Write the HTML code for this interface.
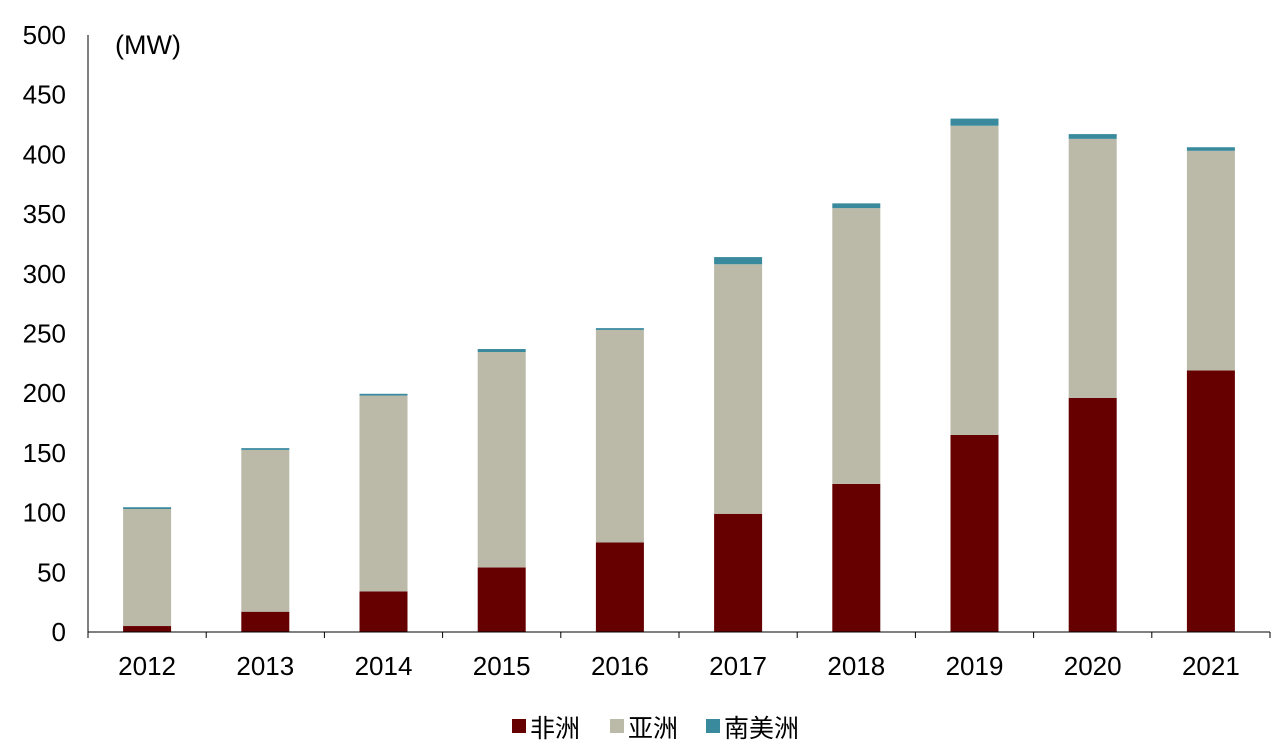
<!DOCTYPE html>
<html><head><meta charset="utf-8"><style>
body{margin:0;background:#fff;}
svg text{font-family:"Liberation Sans","Noto Sans CJK SC",sans-serif;fill:#000;}
</style></head><body>
<svg width="1288" height="746" id="c"></svg>
<script>
const categories=["2012","2013","2014","2015","2016","2017","2018","2019","2020","2021"];
const africa=[5,17,34,54,75,99,124,165,196,219];
const asia=[98,135.5,164,180.5,178,209,231,259,217,184];
const southAmerica=[1.5,1.5,1.5,2.5,1.5,6,4,6,4,3];
const yTicks=[0,50,100,150,200,250,300,350,400,450,500];
const NS="http://www.w3.org/2000/svg";
const svg=document.getElementById('c');
const x0=88,x1=1270,y0=632,yTop=35,ymax=500;
const y=v=>y0-(v/ymax)*(y0-yTop);
const bw=(x1-x0)/categories.length;
const xc=i=>x0+bw*(i+0.5);
function mk(t,a){const e=document.createElementNS(NS,t);for(const k in a)e.setAttribute(k,a[k]);svg.appendChild(e);return e;}
const colors=["#660000","#BBB9A8","#3A8A9E"];
const names=["africa","asia","south-america"];
const series=[africa,asia,southAmerica];
categories.forEach((c,i)=>{
  let base=0;
  series.forEach((s,k)=>{
    const r=mk('rect',{x:xc(i)-24,y:y(base+s[i]),width:48,height:y(base)-y(base+s[i]),fill:colors[k]});
    
    
    base+=s[i];
  });
  const t=mk('text',{x:xc(i),y:675,'font-size':26,'text-anchor':'middle'});
  t.textContent=c;
  
  
});
yTicks.forEach(v=>{
  const t=mk('text',{x:66,y:y(v)+9,'font-size':26,'text-anchor':'end'});
  t.textContent=v;
  
  
});
let a=mk('line',{x1:x0,y1:yTop,x2:x0,y2:y0,stroke:'#000','stroke-width':1});

a=mk('line',{x1:x0,y1:y0,x2:x1,y2:y0,stroke:'#000','stroke-width':1});

for(let i=0;i<=categories.length;i++){
  const tk=mk('line',{x1:x0+bw*i,y1:y0,x2:x0+bw*i,y2:y0+6,stroke:'#000'});
  
}
const u=mk('text',{x:115,y:54,'font-size':27});u.textContent='(MW)';

const leg=[["非洲",512],["亚洲",610],["南美洲",706]];
leg.forEach((l,k)=>{
  const r=mk('rect',{x:l[1],y:719,width:14,height:14,fill:colors[k]});
  
  const t=mk('text',{x:l[1]+18,y:737,'font-size':25});t.textContent=l[0];
  
});
</script>
</body></html>
